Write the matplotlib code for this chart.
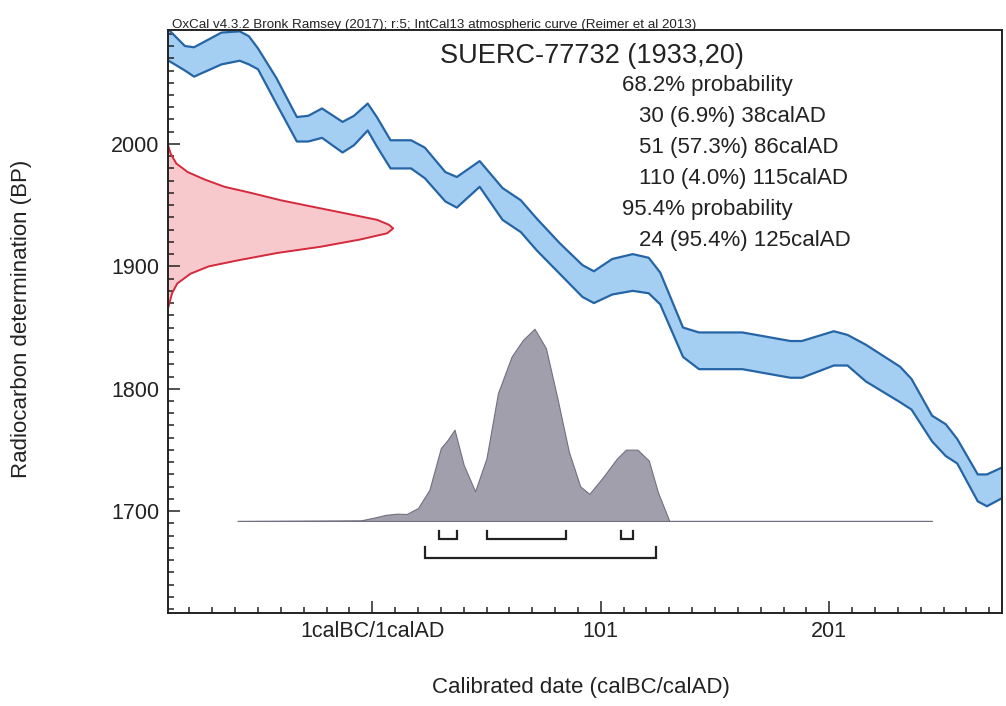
import matplotlib
matplotlib.use("Agg")
import matplotlib.pyplot as plt
from matplotlib.ticker import MultipleLocator
import numpy as np

# IntCal13 band (+/- 1 sigma)
cal_years = [-89, -81, -77, -65, -57, -53, -49, -41, -32, -27,
             -21, -12, -7, -1, 3, 9, 18, 24, 33, 38,
             48, 58, 66, 73, 83, 93, 98, 106, 115, 122,
             127, 137, 144, 163, 184, 189, 203, 209, 217, 232,
             237, 246, 252, 257, 266, 270, 277]
cal_upper = [2095, 2080, 2079, 2091, 2092, 2088, 2078, 2054, 2022, 2023,
             2029, 2018, 2023, 2033, 2022, 2003, 2003, 1997, 1977, 1973,
             1986, 1964, 1954, 1939, 1919, 1901, 1896, 1906, 1910, 1907,
             1895, 1850, 1846, 1846, 1839, 1839, 1847, 1844, 1836, 1818,
             1808, 1778, 1771, 1759, 1730, 1730, 1736]
cal_lower = [2069, 2060, 2055, 2065, 2068, 2065, 2061, 2033, 2002, 2002,
             2005, 1993, 1999, 2011, 1998, 1980, 1980, 1972, 1953, 1948,
             1965, 1938, 1928, 1913, 1894, 1875, 1870, 1877, 1880, 1878,
             1869, 1826, 1816, 1816, 1809, 1809, 1819, 1819, 1806, 1789,
             1783, 1757, 1745, 1739, 1708, 1704, 1711]

# radiocarbon measurement 1933 +/- 20 BP (relative density)
c14_bp = [1999, 1992, 1984, 1977, 1971, 1965, 1960, 1954, 1949, 1943,
          1938, 1934, 1931, 1927, 1922, 1916, 1911, 1905, 1900, 1894,
          1886, 1878, 1867]
c14_dens = [0, 0.012, 0.037, 0.088, 0.162, 0.251, 0.369, 0.501, 0.634, 0.796,
            0.929, 0.981, 1.0, 0.973, 0.855, 0.677, 0.487, 0.313, 0.181, 0.100,
            0.041, 0.018, 0.002]

# calibrated probability (relative)
post_years = [-58, -4, 2, 7, 12, 16, 21, 26, 31, 34,
              37, 41, 46, 51, 56, 62, 67, 72, 77, 82,
              87, 92, 96, 102, 108, 112, 117, 122, 126, 131, 246]
post_dens = [0, 0.003, 0.018, 0.032, 0.038, 0.036, 0.067, 0.162, 0.379, 0.422,
             0.475, 0.292, 0.154, 0.327, 0.665, 0.856, 0.943, 1.0, 0.899, 0.639,
             0.362, 0.18, 0.141, 0.228, 0.324, 0.371, 0.371, 0.315, 0.15, 0, 0]

# ranges (start, end)
ranges_68 = [(30, 38), (51, 86), (110, 115)]
ranges_95 = [(24, 125)]

sample_name = "SUERC-77732 (1933,20)"
summary_lines = [
    ("68.2% probability", 0),
    ("30 (6.9%) 38calAD", 1),
    ("51 (57.3%) 86calAD", 1),
    ("110 (4.0%) 115calAD", 1),
    ("95.4% probability", 0),
    ("24 (95.4%) 125calAD", 1),
]
x_tick_years = [1, 101, 201]
x_tick_labels = ["1calBC/1calAD", "101", "201"]
y_tick_bp = [1700, 1800, 1900, 2000]

plt.rcParams["font.family"] = ["Liberation Sans", "DejaVu Sans"]

W, H = 1006, 706


def fx(px):
    return px / W


def fy(py):
    return 1 - py / H


fig = plt.figure(figsize=(W / 100, H / 100), dpi=100)
ax = fig.add_axes([fx(168), fy(613), (1002 - 168) / W, (613 - 30) / H])
ax.set_xlim(-88.4, 276.6)
ax.set_ylim(1616.8, 2093.1)

# calibration curve band
ax.fill_between(cal_years, cal_lower, cal_upper, color="#a5cff2", lw=0, zorder=1)
ax.plot(cal_years, cal_upper, color="#2565a5", lw=1.6, zorder=2)
ax.plot(cal_years, cal_lower, color="#2565a5", lw=1.6, zorder=2)

# measurement distribution on the y axis (x in axes fraction)
dens = np.array(c14_dens) * 0.27
ax.fill_betweenx(c14_bp, 0, dens, transform=ax.get_yaxis_transform(),
                 color="#f7c9cd", lw=0, zorder=1)
ax.plot(dens, c14_bp, transform=ax.get_yaxis_transform(),
        color="#d42a3c", lw=1.4, zorder=2)

# calibrated distribution
base_bp = 1692
height_bp = 157
post_top = base_bp + np.array(post_dens) * height_bp
ax.fill_between(post_years, base_bp, post_top, facecolor="#a09fab",
                edgecolor="#707080", lw=0.8, zorder=3)

# range brackets
for rows, y_line, y_tip in [(ranges_68, 1677, 1684), (ranges_95, 1662, 1671)]:
    for start, end in rows:
        ax.plot([start, start, end, end], [y_tip, y_line, y_line, y_tip],
                color="#222222", lw=1.6, solid_joinstyle="miter", zorder=4)

# axes styling
ax.set_xticks(x_tick_years)
ax.set_xticklabels(x_tick_labels)
ax.xaxis.set_minor_locator(MultipleLocator(10, offset=1))
ax.set_yticks(y_tick_bp)
ax.yaxis.set_minor_locator(MultipleLocator(10))
ax.tick_params(which="both", direction="in", top=False, right=False,
               width=1.1, color="#222222", labelsize=15.5, labelcolor="#222222")
ax.tick_params(which="major", length=8.5, pad=6)
ax.tick_params(which="minor", length=4.6)
for s in ax.spines.values():
    s.set_linewidth(1.4)
    s.set_color("#222222")

# text
fig.text(fx(172), fy(28), "OxCal v4.3.2 Bronk Ramsey (2017); r:5; IntCal13 atmospheric curve (Reimer et al 2013)",
         fontsize=9.6, va="baseline", color="#222222")
fig.text(fx(440), fy(63), sample_name, fontsize=19.5, va="baseline", color="#222222")
for i, (txt, indent) in enumerate(summary_lines):
    fig.text(fx(622 + 17 * indent), fy(91 + 31 * i), txt, fontsize=16,
             va="baseline", color="#222222")

fig.text(fx(22), fy(319), "Radiocarbon determination (BP)", rotation=90,
         fontsize=16, ha="center", va="center", color="#222222")
fig.text(fx(581), fy(688), "Calibrated date (calBC/calAD)",
         fontsize=16, ha="center", va="center", color="#222222")

fig.savefig("out.png", dpi=100)
